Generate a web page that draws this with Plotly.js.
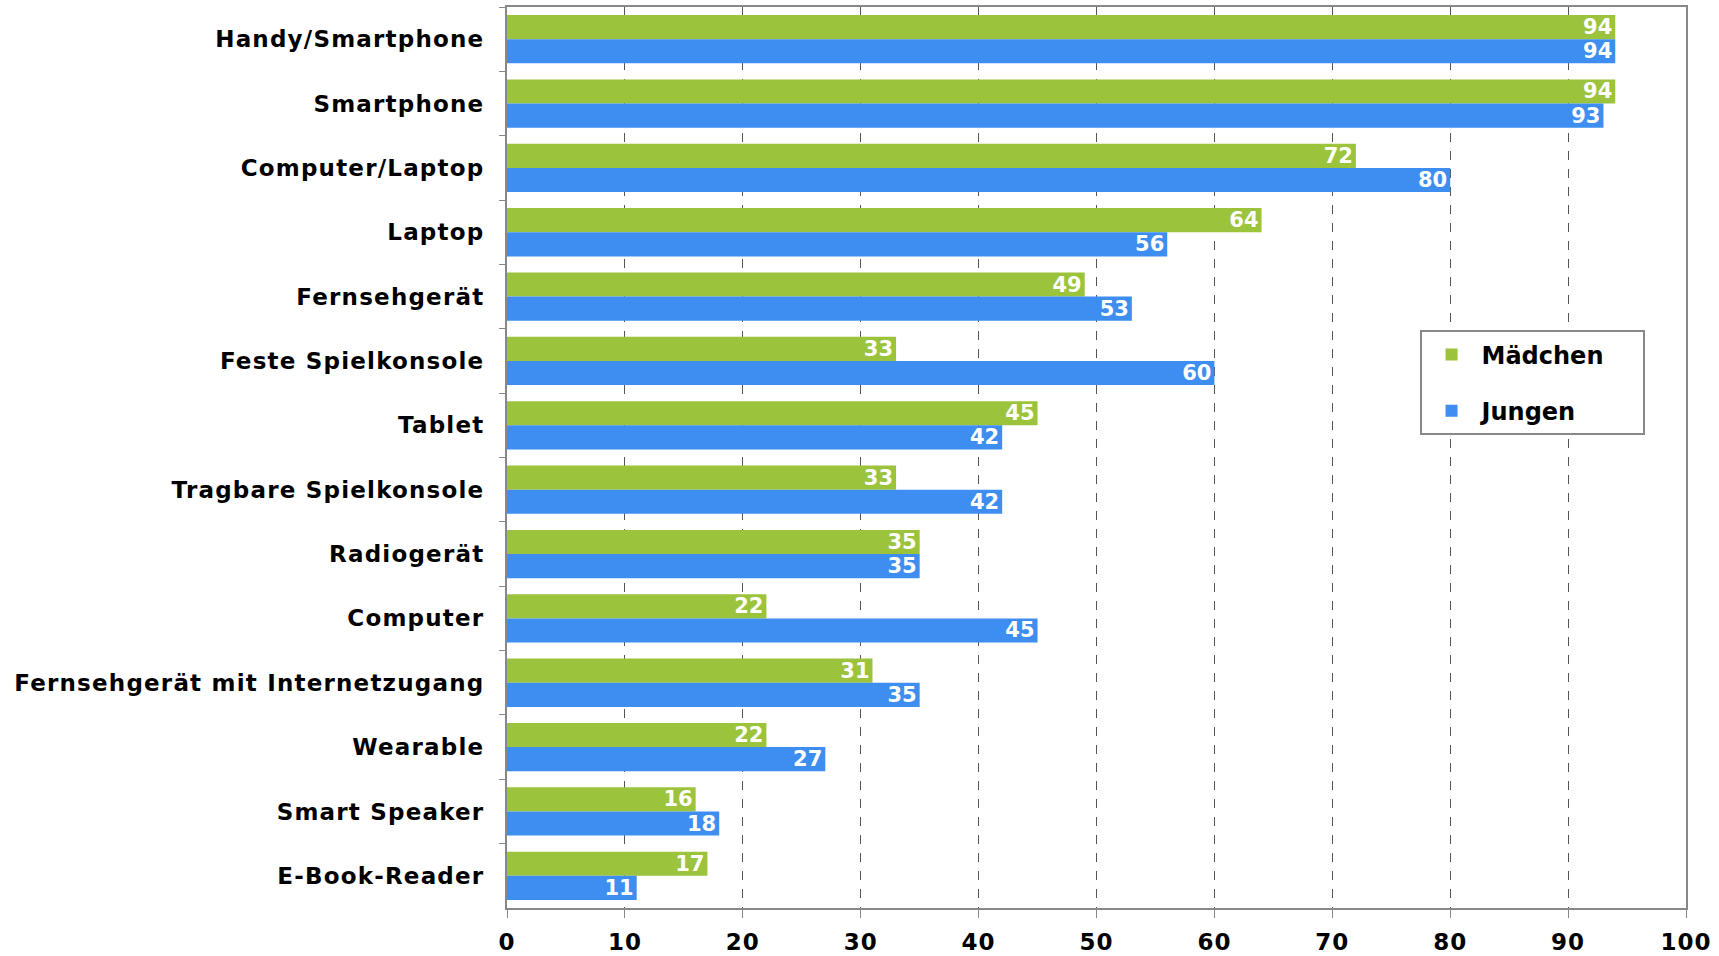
<!DOCTYPE html>
<html>
<head>
<meta charset="utf-8">
<script src="https://cdn.plot.ly/plotly-3.0.1.min.js"></script>
<style>
html,body{margin:0;padding:0;background:#fff;}
#chart{width:1719px;height:956px;}
#chart .ytick text{letter-spacing:1.2px;}
#chart .xtick text{letter-spacing:1px;}
</style>
</head>
<body>
<div id="chart"></div>
<script>
const categories = ["Handy/Smartphone","Smartphone","Computer/Laptop","Laptop","Fernsehgerät","Feste Spielkonsole","Tablet","Tragbare Spielkonsole","Radiogerät","Computer","Fernsehgerät mit Internetzugang","Wearable","Smart Speaker","E-Book-Reader"];
const seriesNames = ["Mädchen","Jungen"];
const maedchen = [94,94,72,64,49,33,45,33,35,22,31,22,16,17];
const jungen = [94,93,80,56,53,60,42,42,35,45,35,27,18,11];
const xTicks = [0,10,20,30,40,50,60,70,80,90,100];

const FONT = "DejaVu Sans, Verdana, sans-serif";
const PAD = "\u00a0\u00a0\u00a0\u00a0";
function trace(name, vals, color){
  return {
    type:'bar', orientation:'h', name:name + PAD, legendgroup:name, y:categories, x:vals,
    marker:{color:color},
    text:vals.map(String), textposition:'inside', insidetextanchor:'end',
    textangle:0, constraintext:'none',
    textfont:{family:FONT, size:21, color:'#ffffff', weight:'bold'},
    hoverinfo:'x+y'
  };
}
const data = [trace(seriesNames[0], maedchen, '#9cc33c'), trace(seriesNames[1], jungen, '#3d8ef0')];
const layout = {
  width:1719, height:956,
  margin:{l:507, r:33, t:7, b:48},
  paper_bgcolor:'#ffffff', plot_bgcolor:'#ffffff',
  barmode:'group', bargap:0.25, bargroupgap:0,
  font:{family:FONT, size:23, color:'#000000', weight:'bold'},
  xaxis:{range:[0,100], tickvals:xTicks, ticktext:xTicks.map(String),
    showgrid:true, gridcolor:'#555555', griddash:'dash', gridwidth:1,
    showline:true, linecolor:'#888888', linewidth:2, mirror:true,
    ticks:'outside', ticklen:8, tickcolor:'#888888', zeroline:false,
    ticklabelstandoff:4,
    tickfont:{family:FONT, size:23, color:'#000', weight:'bold'}, fixedrange:true},
  yaxis:{type:'category', autorange:'reversed', showgrid:false,
    showline:true, linecolor:'#888888', linewidth:2, mirror:true,
    ticks:'outside', tickson:'boundaries', ticklen:6, tickcolor:'#888888',
    ticklabelstandoff:16,
    tickfont:{family:FONT, size:23, color:'#000', weight:'bold'}, fixedrange:true},
  legend:{x:0.774, y:0.641, xanchor:'left', yanchor:'top',
    bgcolor:'#ffffff', bordercolor:'#888888', borderwidth:2,
    font:{family:FONT, size:24, color:'#000', weight:'bold'},
    traceorder:'grouped', tracegroupgap:22, itemwidth:50},
  showlegend:true
};
Plotly.newPlot('chart', data, layout, {displayModeBar:false, staticPlot:true});
</script>
</body>
</html>
